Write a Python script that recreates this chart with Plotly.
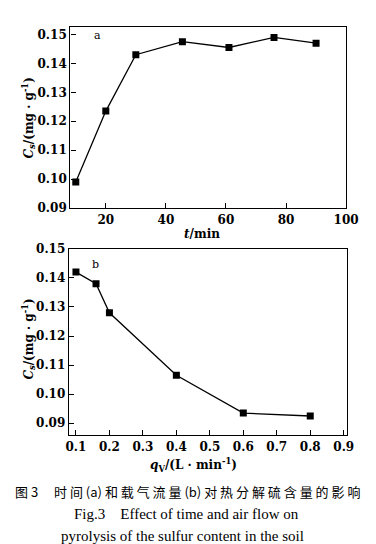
import plotly.graph_objects as go

# Panel a: time vs sulfur content
time_min = [10, 20, 30, 45.5, 61, 76, 90]
cs_time = [0.099, 0.1235, 0.143, 0.1475, 0.1455, 0.149, 0.147]

# Panel b: air flow vs sulfur content
flow = [0.1, 0.16, 0.2, 0.4, 0.6, 0.8]
cs_flow = [0.142, 0.138, 0.128, 0.1065, 0.0935, 0.0925]

x_ticks_a = [20, 40, 60, 80, 100]
x_ticks_b = [0.1, 0.2, 0.3, 0.4, 0.5, 0.6, 0.7, 0.8, 0.9]
y_ticks = [0.09, 0.10, 0.11, 0.12, 0.13, 0.14, 0.15]

W, H = 376, 544
SERIF = "DejaVu Serif, serif"
tick_font = dict(family=SERIF, size=12, color="black", weight="bold")

fig = go.Figure()
line_style = dict(color="black", width=1.3)
marker_style = dict(symbol="square", size=7, color="black")

fig.add_trace(go.Scatter(x=time_min, y=cs_time, mode="lines+markers",
                         line=line_style, marker=marker_style,
                         xaxis="x", yaxis="y", showlegend=False))
fig.add_trace(go.Scatter(x=flow, y=cs_flow, mode="lines+markers",
                         line=line_style, marker=marker_style,
                         xaxis="x2", yaxis="y2", showlegend=False))

axis_common = dict(showline=True, linecolor="black", linewidth=1.4, mirror=True,
                   ticks="inside", ticklen=5, tickwidth=1.3, tickcolor="black",
                   showgrid=False, zeroline=False, tickfont=tick_font)

fig.update_layout(
    width=W, height=H,
    margin=dict(l=0, r=0, t=0, b=0),
    paper_bgcolor="white", plot_bgcolor="white",
    font=dict(family=SERIF, size=12, color="black"),
    xaxis=dict(domain=[62/W, 350/W], range=[8.2, 100], tickvals=x_ticks_a,
               anchor="y", **axis_common),
    yaxis=dict(domain=[1-198/H, 1-12/H], range=[0.09, 0.1527], tickvals=y_ticks,
               tickformat=".2f", anchor="x", **axis_common),
    xaxis2=dict(domain=[60.5/W, 351/W], range=[0.079, 0.91], tickvals=x_ticks_b,
                tickformat=".1f", anchor="y2", **axis_common),
    yaxis2=dict(domain=[1-431/H, 1-240/H], range=[0.086, 0.15], tickvals=y_ticks,
                tickformat=".2f", anchor="x2", **axis_common),
)

def ann(text, x, y, size=13, family=SERIF, angle=0, xanchor="center", weight="normal"):
    fig.add_annotation(text=text, x=x/W, y=1-y/H, xref="paper", yref="paper",
                       showarrow=False, textangle=angle, xanchor=xanchor, yanchor="middle",
                       font=dict(family=family, size=size, color="black", weight=weight))

ann("a", 90, 21, size=11)
ann("b", 88, 256, size=11)
ann("<i>t</i>/min", 200, 225, size=12, weight="bold")
ann("<i>q</i><sub>V</sub>/(L · min<sup>-1</sup>)", 191, 462, size=12, weight="bold")
ann("<i>C<sub>s</sub></i>/(mg · g<sup>-1</sup>)", 19, 106, size=12, angle=-90, weight="bold")
ann("<i>C<sub>s</sub></i>/(mg · g<sup>-1</sup>)", 19, 333, size=12, angle=-90, weight="bold")

cn = "图 3\u3000 时 间 (a) 和 载 气 流 量 (b) 对 热 分 解 硫 含 量 的 影 响"
ann(cn, 184, 489, size=13, family="Noto Sans CJK SC")
LS = "Liberation Serif, serif"
ann("Fig.3\u2003Effect of time and air flow on", 183, 512, size=15, family=LS)
ann("pyrolysis of the sulfur content in the soil", 179, 535, size=15, family=LS)

fig.write_html("out.html")
